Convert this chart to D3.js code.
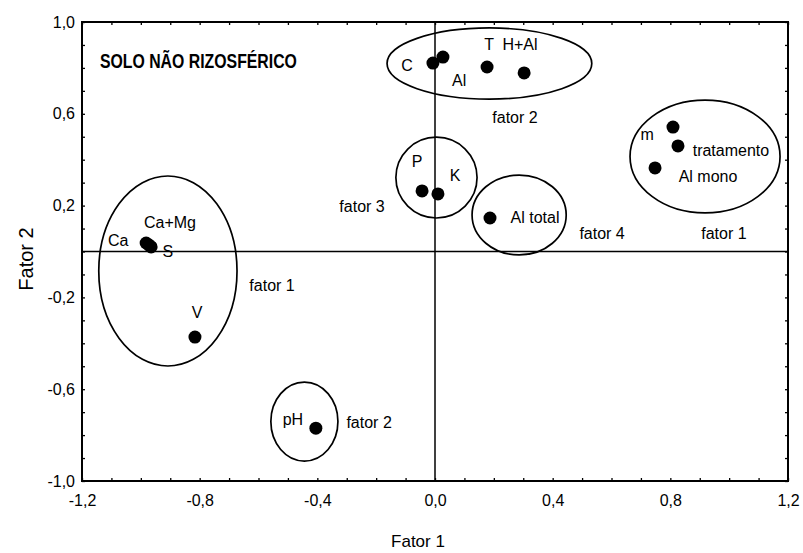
<!DOCTYPE html>
<html>
<head>
<meta charset="utf-8">
<script src="https://cdn.jsdelivr.net/npm/d3@7"></script>
<style>
  body { margin: 0; background: #fff; }
  svg { display: block; font-family: Arial, "Liberation Sans", sans-serif; }
</style>
</head>
<body>
<svg id="chart"></svg>
<script>
// variable loadings (Fator 1, Fator 2)
var vars    = ["Ca", "Ca+Mg", "S", "V", "pH", "C", "Al", "T", "H+Al", "P", "K", "Al total", "m", "tratamento", "Al mono"];
var fator1  = [-0.982, -0.972, -0.965, -0.816, -0.405, -0.007, 0.027, 0.177, 0.303, -0.044, 0.010, 0.187, 0.809, 0.826, 0.748];
var fator2  = [0.037, 0.028, 0.020, -0.373, -0.770, 0.821, 0.847, 0.804, 0.778, 0.264, 0.251, 0.146, 0.542, 0.460, 0.364];

// groups drawn as ellipses (data units)
var ellCx = [-0.908, -0.444, 0.185, 0.005, 0.286, 0.918];
var ellCy = [-0.085, -0.741, 0.819, 0.322, 0.159, 0.414];
var ellRx = [0.235, 0.114, 0.348, 0.138, 0.160, 0.255];
var ellRy = [0.414, 0.172, 0.155, 0.176, 0.174, 0.246];

// text annotations (centre, data units)
var annText = ["Ca", "Ca+Mg", "S", "V", "fator 1", "pH", "fator 2", "fator 3", "C", "T", "H+Al", "Al",
               "fator 2", "P", "K", "Al total", "fator 4", "fator 1", "m", "tratamento", "Al mono"];
var annX = [-1.077, -0.901, -0.908, -0.809, -0.554, -0.483, -0.224, -0.248, -0.095, 0.184, 0.289, 0.082,
            0.272, -0.061, 0.068, 0.340, 0.568, 0.982, 0.721, 1.006, 0.928];
var annY = [0.050, 0.128, -0.002, -0.264, -0.146, -0.734, -0.747, 0.198, 0.812, 0.904, 0.904, 0.747,
            0.582, 0.390, 0.333, 0.146, 0.080, 0.080, 0.508, 0.442, 0.325];

var xTicks = [-1.2, -0.8, -0.4, 0.0, 0.4, 0.8, 1.2];
var yTicks = [-1.0, -0.6, -0.2, 0.2, 0.6, 1.0];
var title = "SOLO NÃO RIZOSFÉRICO";

var W = 803, H = 553,
    margin = {top: 22, right: 15, bottom: 72, left: 82},
    width = W - margin.left - margin.right,
    height = H - margin.top - margin.bottom;

var svg = d3.select("#chart").attr("width", W).attr("height", H);
var g = svg.append("g").attr("transform", "translate(" + margin.left + "," + margin.top + ")");

var x = d3.scaleLinear().domain([-1.2, 1.2]).range([0, width]);
var y = d3.scaleLinear().domain([-1, 1]).range([height, 0]);

var fmt = function(d) { return d.toFixed(1).replace(".", ","); };
var minor = d3.range(-12, 13).map(function(i) { return i / 10; });
var minorY = d3.range(-10, 11).map(function(i) { return i / 10; });

// inward minor ticks on all four sides
g.append("g").attr("transform", "translate(0," + height + ")")
  .call(d3.axisBottom(x).tickValues(minor).tickSize(-3).tickFormat(""));
g.append("g")
  .call(d3.axisTop(x).tickValues(minor).tickSize(-3).tickFormat(""));
g.append("g")
  .call(d3.axisLeft(y).tickValues(minorY).tickSize(-3).tickFormat(""));
g.append("g").attr("transform", "translate(" + width + ",0)")
  .call(d3.axisRight(y).tickValues(minorY).tickSize(-3).tickFormat(""));
g.selectAll(".domain").remove();
g.selectAll(".tick line").attr("stroke", "#000").attr("stroke-width", 1.3);

// tick labels
var xa = g.append("g").attr("transform", "translate(0," + height + ")")
  .call(d3.axisBottom(x).tickValues(xTicks).tickSize(0).tickPadding(14).tickFormat(fmt));
var ya = g.append("g")
  .call(d3.axisLeft(y).tickValues(yTicks).tickSize(0).tickPadding(7).tickFormat(fmt));
[xa, ya].forEach(function(a) {
  a.select(".domain").remove();
  a.selectAll("text").attr("font-size", "16px").attr("font-family", "Arial, 'Liberation Sans', sans-serif").attr("fill", "#000");
});

// frame
g.append("rect")
  .attr("x", 0).attr("y", 0).attr("width", width).attr("height", height)
  .attr("fill", "none").attr("stroke", "#000").attr("stroke-width", 2);

// zero lines
g.append("line").attr("x1", x(0)).attr("x2", x(0)).attr("y1", 0).attr("y2", height)
  .attr("stroke", "#000").attr("stroke-width", 1.5);
g.append("line").attr("x1", 0).attr("x2", width).attr("y1", y(0)).attr("y2", y(0))
  .attr("stroke", "#000").attr("stroke-width", 1.5);

// ellipses
g.selectAll(".grp").data(ellCx).enter().append("ellipse")
  .attr("class", "grp")
  .attr("cx", function(d) { return x(d); })
  .attr("cy", function(d, i) { return y(ellCy[i]); })
  .attr("rx", function(d, i) { return x(ellRx[i]) - x(0); })
  .attr("ry", function(d, i) { return y(0) - y(ellRy[i]); })
  .attr("fill", "none").attr("stroke", "#000").attr("stroke-width", 1.7);

// points
g.selectAll(".pt").data(vars).enter().append("circle")
  .attr("class", "pt")
  .attr("cx", function(d, i) { return x(fator1[i]); })
  .attr("cy", function(d, i) { return y(fator2[i]); })
  .attr("r", 6.5)
  .attr("fill", "#000");

// annotations
g.selectAll(".ann").data(annText).enter().append("text")
  .attr("class", "ann")
  .attr("x", function(d, i) { return x(annX[i]); })
  .attr("y", function(d, i) { return y(annY[i]); })
  .attr("text-anchor", "middle")
  .attr("dominant-baseline", "central")
  .attr("font-size", "16px")
  .attr("fill", "#000")
  .text(function(d) { return d; });

// panel title
g.append("text")
  .attr("x", x(-1.139))
  .attr("y", y(0.80))
  .attr("font-family", "'Liberation Sans Narrow', 'Arial Narrow', Arial, sans-serif")
  .attr("font-weight", "bold")
  .attr("font-size", "19.5px")
  .attr("textLength", 197)
  .attr("lengthAdjust", "spacingAndGlyphs")
  .text(title);

// axis titles
svg.append("text")
  .attr("x", 418).attr("y", 547)
  .attr("text-anchor", "middle")
  .attr("font-size", "17px")
  .text("Fator 1");

svg.append("text")
  .attr("transform", "translate(33,259) rotate(-90)")
  .attr("text-anchor", "middle")
  .attr("font-size", "20px")
  .text("Fator 2");
</script>
</body>
</html>
